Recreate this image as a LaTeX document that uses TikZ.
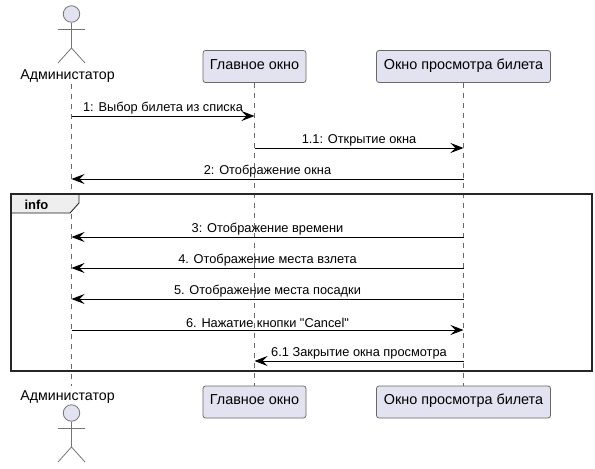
\documentclass[tikz,border=0pt]{standalone}
\usepackage{fontspec}
\setmainfont{Liberation Sans}
\usetikzlibrary{arrows.meta}
\definecolor{boxfill}{HTML}{E2E2F0}
\definecolor{tabfill}{HTML}{EEEEEE}
\definecolor{edge}{HTML}{181818}
\tikzset{every picture/.style = {x=1pt, y=-1pt}}
\tikzset{box/.style = {draw=edge!65, fill=boxfill, rounded corners=2.5, line width=0.8, minimum height=32, inner sep=0, text height=8, text depth=3, font=\fontsize{14.4}{16}\selectfont}}
\tikzset{who/.style = {font=\fontsize{14.2}{16}\selectfont}}
\tikzset{life/.style = {draw=edge!65, line width=0.7, dash pattern=on 5 off 5}}
\tikzset{body/.style = {draw=edge!60, line width=0.8}}
\tikzset{msg/.style = {draw=black, line width=0.9, -{Stealth[length=13, width=10, inset=5]}}}
\tikzset{txt/.style = {midway, above=0.5, inner sep=1, font=\fontsize{12.8}{14}\selectfont}}

\begin{document}
\begin{tikzpicture}
  \useasboundingbox (0, 0) rectangle (595, 469);

  % participants
  \node[who] (adminTop) at (67.5, 76.5) {Администатор};
  \node[box, minimum width=103] (mainTop) at (254.5, 66.5) {Главное окно};
  \node[box, minimum width=174] (viewTop) at (463.5, 66.5) {Окно просмотра билета};
  \node[who] (adminEnd) at (67.5, 397.5) {Администатор};
  \node[box, minimum width=103] (mainEnd) at (254.5, 402) {Главное окно};
  \node[box, minimum width=174] (viewEnd) at (463.5, 402) {Окно просмотра билета};

  % lifelines
  \coordinate (adminA) at (71.5, 84);
  \coordinate (adminB) at (71.5, 386);
  \draw[life] (adminA) -- (adminB);
  \draw[life] (mainTop) -- (mainEnd);
  \draw[life] (viewTop) -- (viewEnd);

  % actors
  \foreach \name/\dy in {top/0, end/399} {
    \begin{scope}[yshift=-\dy]
      \node[body, fill=boxfill, shape=circle, minimum size=16.5, inner sep=0] (head\name) at (71.5, 14) {};
      \coordinate (hip\name) at (71.5, 48);
      \coordinate (armL\name) at (58, 29);
      \coordinate (armR\name) at (85, 29);
      \coordinate (legL\name) at (58, 63);
      \coordinate (legR\name) at (85, 63);
      \draw[body] (head\name) -- (hip\name);
      \draw[body] (armL\name) -- (armR\name);
      \draw[body] (legL\name) -- (hip\name) -- (legR\name);
    \end{scope}
  }

  % points on the lifelines
  \foreach \n/\yy in {1/116, 2/148, 3/179, 4/237, 5/268, 6/299, 7/330, 8/361} {
    \coordinate (a\n) at (71.5, \yy);
    \coordinate (m\n) at (254.5, \yy);
    \coordinate (v\n) at (463.5, \yy);
  }

  % info frame
  \coordinate (frameA) at (10.5, 194);
  \coordinate (frameB) at (591.5, 370.5);
  \draw[fill=tabfill, draw=edge, line width=0.8] (frameA) -- (79, 194) -- (79, 203) -- (70, 213) -- (10.5, 213) -- cycle;
  \draw[draw=black!85, line width=2] (frameA) rectangle (frameB);
  \node[font=\fontsize{13}{15}\selectfont\bfseries] (infoTag) at (36.5, 205) {info};

  % messages
  \draw[msg] (a1) -- (m1) node[txt]{1: Выбор билета из списка};
  \draw[msg] (m2) -- (v2) node[txt]{1.1: Открытие окна};
  \draw[msg] (v3) -- (a3) node[txt]{2: Отображение окна};
  \draw[msg] (v4) -- (a4) node[txt]{3: Отображение времени};
  \draw[msg] (v5) -- (a5) node[txt]{4. Отображение места взлета};
  \draw[msg] (v6) -- (a6) node[txt]{5. Отображение места посадки};
  \draw[msg] (a7) -- (v7) node[txt]{6. Нажатие кнопки \textquotedbl Cancel\textquotedbl};
  \draw[msg] (v8) -- (m8) node[txt]{6.1 Закрытие окна просмотра};
\end{tikzpicture}
\end{document}
